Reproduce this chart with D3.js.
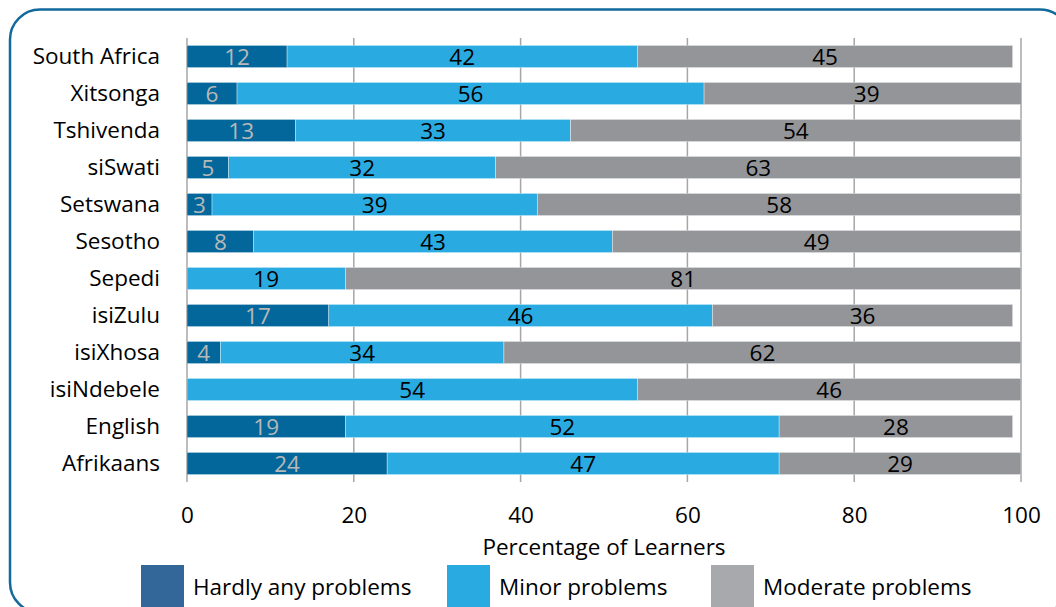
<!DOCTYPE html>
<html>
<head>
<meta charset="utf-8">
<script src="https://cdn.jsdelivr.net/npm/d3@7"></script>
<style>
  html, body { margin: 0; padding: 0; background: #fff; }
  svg { display: block; }
  text { font-family: "Open Sans", sans-serif; }
</style>
</head>
<body>
<svg id="chart" width="1056" height="607"></svg>
<script>
// Languages, top to bottom
const languages = ["South Africa", "Xitsonga", "Tshivenda", "siSwati", "Setswana", "Sesotho",
                   "Sepedi", "isiZulu", "isiXhosa", "isiNdebele", "English", "Afrikaans"];
// Percentage of learners in each problem category
const hardlyAny = [12, 6, 13, 5, 3, 8, 0, 17, 4, 0, 19, 24];
const minor     = [42, 56, 33, 32, 39, 43, 19, 46, 34, 54, 52, 47];
const moderate  = [45, 39, 54, 63, 58, 49, 81, 36, 62, 46, 28, 29];
const seriesNames = ["Hardly any problems", "Minor problems", "Moderate problems"];
const xTicks = [0, 20, 40, 60, 80, 100];

const barColors = ["#03679b", "#29abe2", "#939598"];
const legendColors = ["#336699", "#29abe2", "#a7a9ac"];
const labelColors = ["#b8b8b8", "#000", "#000"];
const fontSize = 22.5;

const svg = d3.select("#chart");

// Rounded frame
svg.append("rect")
  .attr("x", 10).attr("y", 9.5)
  .attr("width", 1060).attr("height", 603)
  .attr("rx", 30).attr("ry", 30)
  .attr("fill", "none")
  .attr("stroke", "#11699c")
  .attr("stroke-width", 2.5);

const x = d3.scaleLinear().domain([0, 100]).range([187, 1021]);
const y = d3.scaleBand().domain(languages).range([38, 482])
  .paddingInner(0.4).paddingOuter(0.2);

// Gridlines
svg.append("g").selectAll("line").data(xTicks).join("line")
  .attr("x1", d => x(d)).attr("x2", d => x(d))
  .attr("y1", 38).attr("y2", 482)
  .attr("stroke", "#a6a6a6").attr("stroke-width", 1.5);

// Stacked data
const rows = languages.map((lang, i) => ({
  lang, values: [hardlyAny[i], minor[i], moderate[i]]
}));
const segs = [];
rows.forEach(r => {
  let acc = 0;
  r.values.forEach((v, k) => {
    segs.push({ lang: r.lang, k, v, x0: acc, x1: acc + v });
    acc += v;
  });
});

svg.append("clipPath").attr("id", "plotClip")
  .append("rect").attr("x", x(0)).attr("y", 0)
  .attr("width", x(100) - x(0)).attr("height", 607);

const bars = svg.append("g").attr("clip-path", "url(#plotClip)");
bars.selectAll("rect").data(segs.filter(d => d.v > 0)).join("rect")
  .attr("x", d => x(d.x0))
  .attr("y", d => y(d.lang))
  .attr("width", d => x(d.x1) - x(d.x0))
  .attr("height", y.bandwidth())
  .attr("fill", d => barColors[d.k])
  .attr("stroke", "#ffffff").attr("stroke-width", 0.6).attr("stroke-opacity", 0.6);

// Value labels
svg.append("g").selectAll("text").data(segs.filter(d => d.v > 0)).join("text")
  .attr("x", d => x((d.x0 + d.x1) / 2))
  .attr("y", d => y(d.lang) + y.bandwidth() / 2)
  .attr("dy", "0.36em")
  .attr("text-anchor", "middle")
  .attr("font-size", fontSize)
  .attr("fill", d => labelColors[d.k])
  .text(d => d.v);

// Category labels
svg.append("g").selectAll("text").data(languages).join("text")
  .attr("x", 160)
  .attr("y", d => y(d) + y.bandwidth() / 2 - 1)
  .attr("dy", "0.36em")
  .attr("text-anchor", "end")
  .attr("font-size", fontSize)
  .attr("fill", "#000")
  .text(d => d);

// X axis tick labels
const xAxis = d3.axisBottom(x).tickValues(xTicks).tickSize(0).tickPadding(0);
const axisG = svg.append("g").attr("transform", "translate(0,509)").call(xAxis);
axisG.select(".domain").remove();
axisG.selectAll("text")
  .attr("font-size", fontSize)
  .attr("font-family", "'Open Sans', sans-serif")
  .attr("fill", "#000")
  .attr("dy", "0.36em")
  .attr("y", 6);

svg.append("text")
  .attr("x", x(50)).attr("y", 555)
  .attr("text-anchor", "middle")
  .attr("font-size", fontSize)
  .text("Percentage of Learners");

// Legend
const legendX = [141, 447, 711];
const lg = svg.append("g").selectAll("g").data(seriesNames).join("g");
lg.append("rect")
  .attr("x", (d, i) => legendX[i]).attr("y", 565)
  .attr("width", 43).attr("height", 45)
  .attr("fill", (d, i) => legendColors[i]);
lg.append("text")
  .attr("x", (d, i) => legendX[i] + 52).attr("y", 595)
  .attr("font-size", fontSize)
  .text(d => d);
</script>
</body>
</html>
